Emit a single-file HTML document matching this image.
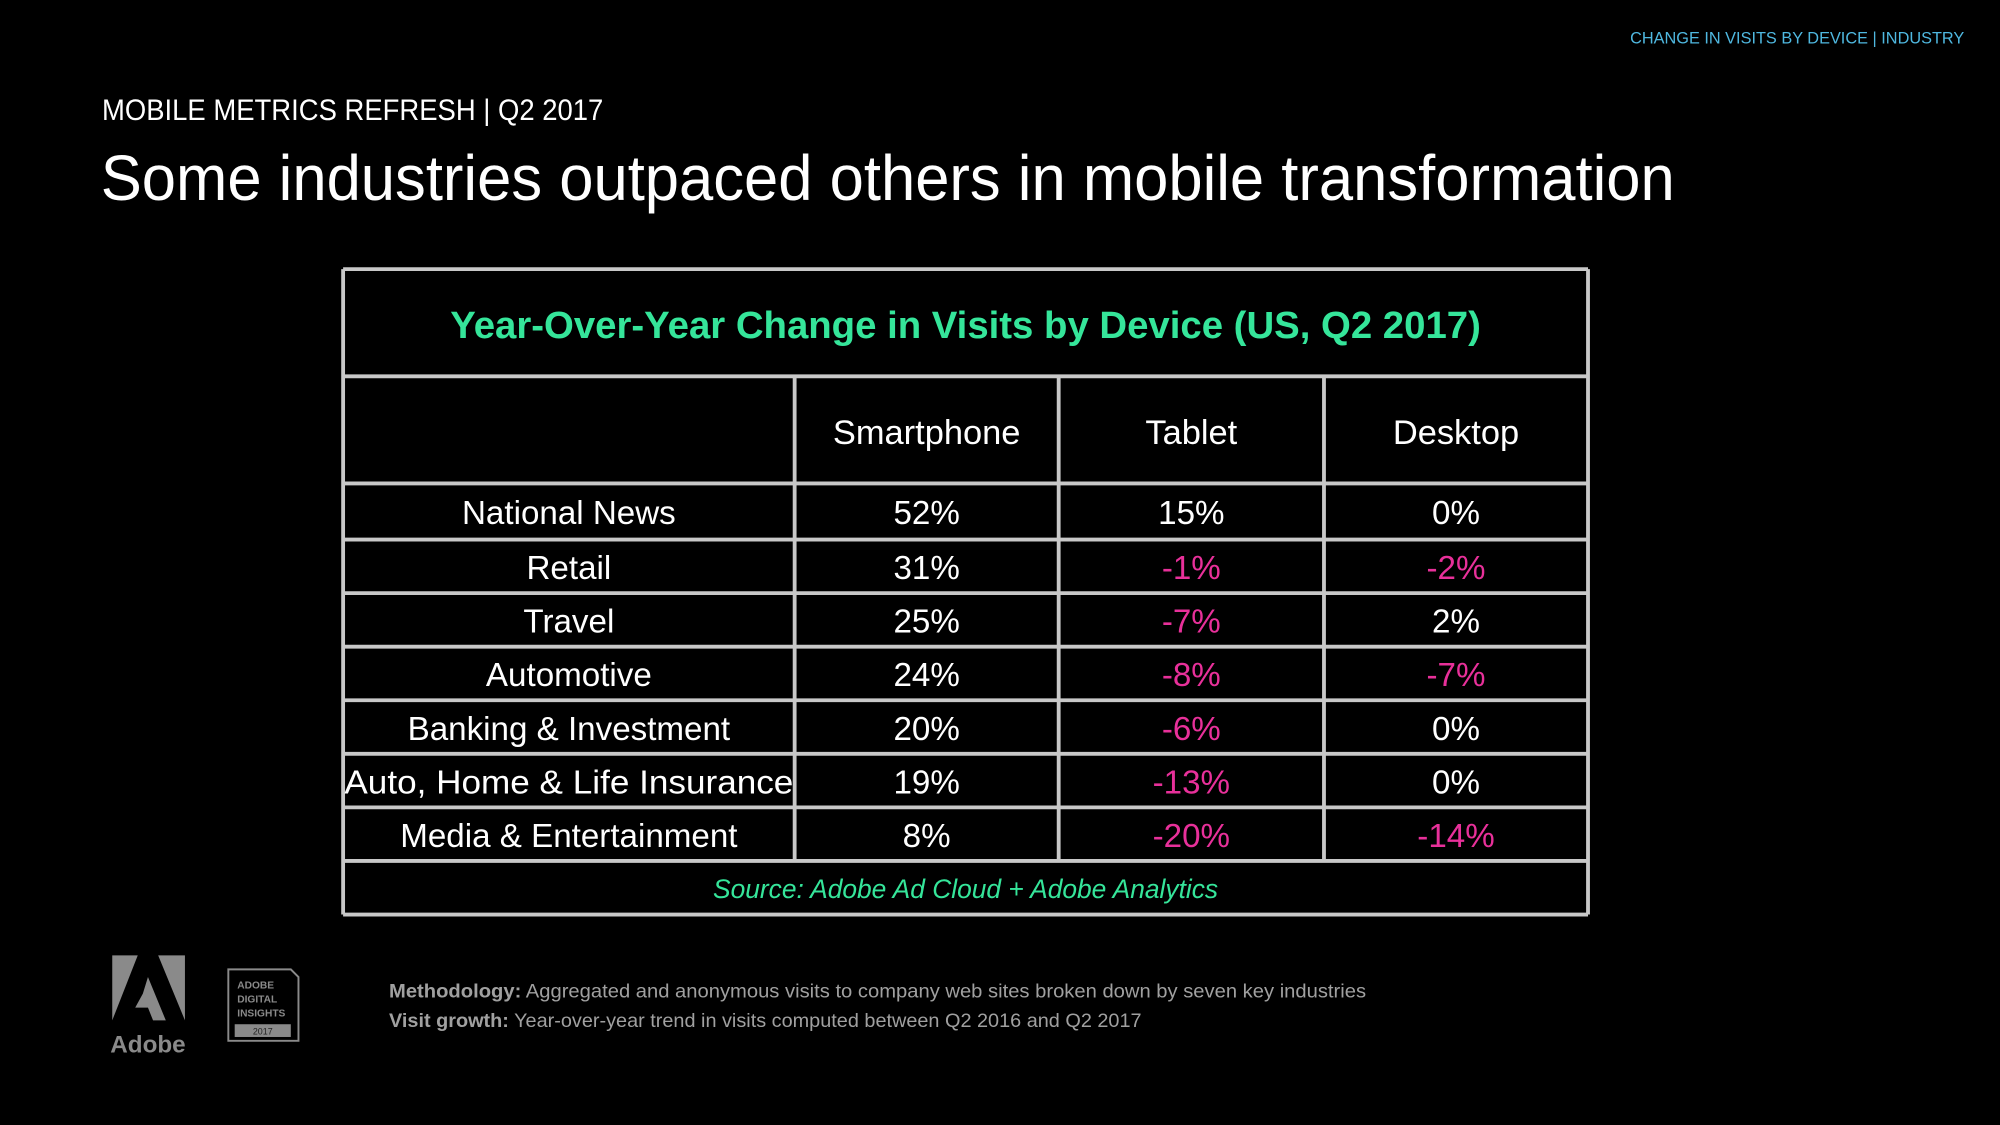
<!DOCTYPE html>
<html><head><meta charset="utf-8"><style>
html,body{margin:0;padding:0;background:#000;}
svg{display:block;font-family:"Liberation Sans",sans-serif;}
</style></head><body>
<svg id="s" width="2000" height="1125" viewBox="0 0 1568 882">
<rect width="1568" height="882" fill="#000"/>
<text x="1540" y="34" text-anchor="end" font-size="13" fill="#4fb8e0" textLength="262" lengthAdjust="spacingAndGlyphs">CHANGE IN VISITS BY DEVICE | INDUSTRY</text>
<text x="80" y="94" font-size="23" fill="#fff" textLength="393" lengthAdjust="spacingAndGlyphs">MOBILE METRICS REFRESH | Q2 2017</text>
<text x="79" y="157" font-size="50" fill="#fff" textLength="1234" lengthAdjust="spacingAndGlyphs">Some industries outpaced others in mobile transformation</text>
<g id="tbl"></g>
<g>
<polygon points="88,749 108,749 88,800" fill="#8a8a8a"/>
<polygon points="124,749 145,749 145,800" fill="#8a8a8a"/>
<polygon points="116,766 130,800 120,800 116,790 106,790 112,779" fill="#8a8a8a"/>
<text x="116" y="825" text-anchor="middle" font-size="19" font-weight="bold" fill="#8a8a8a">Adobe</text>
</g>
<g>
<path d="M179,760 L228,760 L234,766 L234,816 L179,816 Z" fill="none" stroke="#8a8a8a" stroke-width="1.5"/>
<text x="186" y="775" font-size="8" font-weight="bold" fill="#8a8a8a">ADOBE</text>
<text x="186" y="786" font-size="8" font-weight="bold" fill="#8a8a8a">DIGITAL</text>
<text x="186" y="797" font-size="8" font-weight="bold" fill="#8a8a8a">INSIGHTS</text>
<rect x="184" y="803" width="44" height="10" fill="#8a8a8a"/>
<text x="206" y="811" text-anchor="middle" font-size="7" fill="#222">2017</text>
</g>
<text x="305" y="782" font-size="15" fill="#a0a0a0" textLength="766" lengthAdjust="spacingAndGlyphs"><tspan font-weight="bold">Methodology:</tspan> Aggregated and anonymous visits to company web sites broken down by seven key industries</text>
<text x="305" y="805" font-size="15" fill="#a0a0a0" textLength="590" lengthAdjust="spacingAndGlyphs"><tspan font-weight="bold">Visit growth:</tspan> Year-over-year trend in visits computed between Q2 2016 and Q2 2017</text>
</svg>
<script>
const industries=["National News","Retail","Travel","Automotive","Banking & Investment","Auto, Home & Life Insurance","Media & Entertainment"];
const smartphone=[52,31,25,24,20,19,8];
const tablet=[15,-1,-7,-8,-6,-13,-20];
const desktop=[0,-2,2,-7,0,0,-14];
const headers=["Smartphone","Tablet","Desktop"];
const NS="http://www.w3.org/2000/svg";
const g=document.getElementById('tbl');
const X=[269,623,830,1038,1245];
const Y=[211,295,379,423,465,507,549,591,633,675,717];
function t(x,y,s,size,fill,extra){const e=document.createElementNS(NS,'text');e.setAttribute('x',x);e.setAttribute('y',y);e.setAttribute('text-anchor','middle');e.setAttribute('font-size',size);e.setAttribute('fill',fill);if(extra)for(const k in extra)e.setAttribute(k,extra[k]);e.textContent=s;g.appendChild(e);return e;}
function ln(x1,y1,x2,y2){const l=document.createElementNS(NS,'line');l.setAttribute('x1',x1);l.setAttribute('y1',y1);l.setAttribute('x2',x2);l.setAttribute('y2',y2);l.setAttribute('stroke','#c8c8c8');l.setAttribute('stroke-width','3');


g.appendChild(l);}
Y.forEach(y=>ln(X[0],y,X[4],y));
ln(X[0],Y[0],X[0],Y[10]);ln(X[4],Y[0],X[4],Y[10]);
for(let i=1;i<4;i++)ln(X[i],Y[1],X[i],Y[9]);
let e=t(757,265,"Year-Over-Year Change in Visits by Device (US, Q2 2017)",30,"#35e59a",{'font-weight':'bold',textLength:808,lengthAdjust:'spacingAndGlyphs'});


headers.forEach((h,i)=>{const c=t((X[i+1]+X[i+2])/2,348,h,27,"#fff");

});
const cols=[smartphone,tablet,desktop];
industries.forEach((name,r)=>{const cy=(Y[r+2]+Y[r+3])/2+10;
const ex=name.length>24?{textLength:352,lengthAdjust:'spacingAndGlyphs'}:null;
const n=t((X[0]+X[1])/2,cy,name,26,"#fff",ex);


cols.forEach((arr,c)=>{const v=arr[r];const cell=t((X[c+1]+X[c+2])/2,cy,v+"%",26,v<0?"#e8309a":"#fff");

});});
e=t(757,704,"Source: Adobe Ad Cloud + Adobe Analytics",21,"#35e59a",{'font-style':'italic',textLength:396,lengthAdjust:'spacingAndGlyphs'});


</script>
</body></html>
